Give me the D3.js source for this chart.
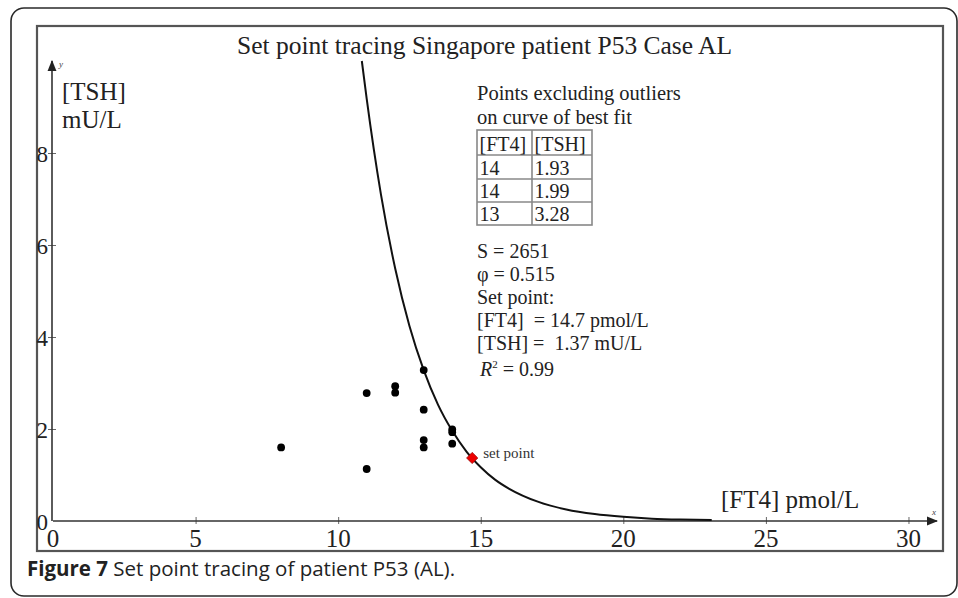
<!DOCTYPE html>
<html>
<head>
<meta charset="utf-8">
<script src="https://cdn.jsdelivr.net/npm/d3@7"></script>
<style>
  html, body { margin: 0; padding: 0; background: #fff; }
  svg { display: block; }
  text { white-space: pre; }
</style>
</head>
<body>
<svg id="chart" width="958" height="598"></svg>
<script>
// ---- data ----
const pointFT4 = [8, 11, 11, 12, 12, 13, 13, 13, 13, 14, 14, 14];
const pointTSH = [1.6, 2.78, 1.13, 2.93, 2.79, 3.28, 2.42, 1.76, 1.6, 1.99, 1.93, 1.68];
const setPointFT4 = 14.7;
const setPointTSH = 1.37;
const curveFT4 = [10.83, 11, 11.5, 12, 12.5, 13, 13.5, 14, 14.5, 15, 15.5, 16, 17, 18, 19, 20, 21, 22, 23.1];
const curveTSH = [10.0, 9.18, 7.10, 5.49, 4.24, 3.28, 2.53, 1.96, 1.51, 1.17, 0.90, 0.70, 0.42, 0.25, 0.15, 0.09, 0.05, 0.03, 0.02];
const xTicks = [0, 5, 10, 15, 20, 25, 30];
const yTicks = [0, 2, 4, 6, 8];
const tableHeader = ["[FT4]", "[TSH]"];
const tableFT4 = ["14", "14", "13"];
const tableTSH = ["1.93", "1.99", "3.28"];
const paramLines = ["S = 2651", "\u03c6 = 0.515", "Set point:", "[FT4]  = 14.7 pmol/L", "[TSH] =  1.37 mU/L"];
const noteLines = ["Points excluding outliers", "on curve of best fit"];
const titleText = "Set point tracing Singapore patient P53 Case AL";

const svg = d3.select("#chart");
const serif = "'Liberation Serif', 'Times New Roman', serif";

// outer rounded figure box
svg.append("rect").attr("x", 11).attr("y", 8).attr("width", 946).attr("height", 588)
  .attr("rx", 13).attr("fill", "none").attr("stroke", "#2a2a2a").attr("stroke-width", 1.6);

// inner frame
svg.append("rect").attr("x", 37).attr("y", 26).attr("width", 906).attr("height", 525)
  .attr("fill", "none").attr("stroke", "#555").attr("stroke-width", 2.2);

// scales
const x = d3.scaleLinear().domain([0, 31]).range([53, 937]);
const y = d3.scaleLinear().domain([0, 10]).range([521, 61]);

// marker
const defs = svg.append("defs");
defs.append("marker").attr("id", "arr").attr("viewBox", "0 0 10 10").attr("refX", 9).attr("refY", 5)
  .attr("markerWidth", 7).attr("markerHeight", 7).attr("orient", "auto-start-reverse")
  .append("path").attr("d", "M0,1 L10,5 L0,9 Z").attr("fill", "#222");

// x axis
const xAxis = d3.axisBottom(x).tickValues(xTicks.filter(d => d > 0)).tickSizeInner(-4).tickSizeOuter(0).tickFormat("");
const gx = svg.append("g").attr("transform", `translate(0,${y(0)})`).call(xAxis);
gx.select(".domain").remove();
gx.selectAll(".tick line").attr("stroke", "#666").attr("y2", -4).attr("y1", 3);
svg.append("line").attr("x1", x(0)).attr("x2", x(31)).attr("y1", y(0)).attr("y2", y(0))
  .attr("stroke", "#333").attr("stroke-width", 1.6).attr("marker-end", "url(#arr)");
svg.selectAll(".xlab").data(xTicks).join("text")
  .attr("x", d => x(d)).attr("y", 547).attr("text-anchor", "middle")
  .attr("font-family", serif).attr("font-size", 25).attr("fill", "#222").text(d => d);

// y axis
const yAxis = d3.axisLeft(y).tickValues(yTicks.filter(d => d > 0)).tickSizeInner(4).tickSizeOuter(0).tickFormat("");
const gy = svg.append("g").attr("transform", `translate(${x(0) - 1},0)`).call(yAxis);
gy.select(".domain").remove();
gy.selectAll(".tick line").attr("stroke", "#666").attr("x1", 4);
svg.append("line").attr("x1", x(0) - 1).attr("x2", x(0) - 1).attr("y1", y(0)).attr("y2", y(10))
  .attr("stroke", "#333").attr("stroke-width", 1.6).attr("marker-end", "url(#arr)");
svg.selectAll(".ylab").data(yTicks).join("text")
  .attr("x", 48).attr("y", d => y(d) + 9).attr("text-anchor", "end")
  .attr("font-family", serif).attr("font-size", 23).attr("fill", "#222").text(d => d);

// tiny axis letters
svg.append("text").attr("x", 59).attr("y", 67).attr("font-family", serif).attr("font-style", "italic")
  .attr("font-size", 9).attr("fill", "#444").text("y");
svg.append("text").attr("x", 932).attr("y", 515).attr("font-family", serif).attr("font-style", "italic")
  .attr("font-size", 9).attr("fill", "#444").text("x");

// axis titles
svg.append("text").attr("x", 62).attr("y", 100).attr("font-family", serif).attr("font-size", 25).attr("fill", "#222").text("[TSH]");
svg.append("text").attr("x", 62).attr("y", 128).attr("font-family", serif).attr("font-size", 25).attr("fill", "#222").text("mU/L");
svg.append("text").attr("x", 721).attr("y", 508).attr("font-family", serif).attr("font-size", 25).attr("fill", "#222").text("[FT4] pmol/L");

// title
svg.append("text").attr("x", 237).attr("y", 54).attr("font-family", serif).attr("font-size", 25.5).attr("fill", "#222").text(titleText);

// curve
const curveData = curveFT4.map((d, i) => [d, curveTSH[i]]);
svg.append("path").datum(curveData)
  .attr("d", d3.line().x(d => x(d[0])).y(d => y(d[1])).curve(d3.curveMonotoneX))
  .attr("fill", "none").attr("stroke", "#111").attr("stroke-width", 2);

// points
const pts = pointFT4.map((d, i) => [d, pointTSH[i]]);
svg.selectAll(".pt").data(pts).join("circle")
  .attr("cx", d => x(d[0])).attr("cy", d => y(d[1])).attr("r", 3.9).attr("fill", "#000");

// set point
svg.append("path").attr("d", d3.symbol().type(d3.symbolDiamond2).size(80)())
  .attr("transform", `translate(${x(setPointFT4)},${y(setPointTSH)})`)
  .attr("fill", "#ee0000").attr("stroke", "#990000").attr("stroke-width", 0.8);
svg.append("text").attr("x", x(setPointFT4) + 11).attr("y", y(setPointTSH) + 0)
  .attr("font-family", serif).attr("font-size", 15).attr("fill", "#333").text("set point");

// notes
svg.selectAll(".note").data(noteLines).join("text")
  .attr("x", 477).attr("y", (d, i) => 100 + i * 24)
  .attr("font-family", serif).attr("font-size", 20.5).attr("fill", "#222").text(d => d);

// table
const rowY = [130, 155, 179, 202, 225];
const colX = [477, 532, 592];
const tbl = svg.append("g");
tbl.append("rect").attr("x", colX[0]).attr("y", rowY[0]).attr("width", colX[2] - colX[0]).attr("height", rowY[4] - rowY[0])
  .attr("fill", "none").attr("stroke", "#888").attr("stroke-width", 1.6);
rowY.slice(1, 4).forEach(r => tbl.append("line").attr("x1", colX[0]).attr("x2", colX[2]).attr("y1", r).attr("y2", r)
  .attr("stroke", "#888").attr("stroke-width", 1.6));
tbl.append("line").attr("x1", colX[1]).attr("x2", colX[1]).attr("y1", rowY[0]).attr("y2", rowY[4])
  .attr("stroke", "#888").attr("stroke-width", 1.6);
const rows = [tableHeader].concat(tableFT4.map((d, i) => [d, tableTSH[i]]));
rows.forEach((r, i) => {
  r.forEach((c, j) => {
    tbl.append("text").attr("x", colX[j] + 2.5).attr("y", rowY[i + 1] - 4)
      .attr("font-family", serif).attr("font-size", 20).attr("fill", "#222").text(c);
  });
});

// parameter lines
const paramY = [258, 281, 304, 327, 350];
svg.selectAll(".param").data(paramLines).join("text")
  .attr("x", 477).attr("y", (d, i) => paramY[i])
  .attr("font-family", serif).attr("font-size", 20).attr("fill", "#222").text(d => d);
const r2 = svg.append("text").attr("x", 480).attr("y", 376).attr("font-family", serif).attr("font-size", 20).attr("fill", "#222");
r2.append("tspan").attr("font-style", "italic").text("R");
r2.append("tspan").attr("font-size", 11).attr("dy", -8).text("2");
r2.append("tspan").attr("dy", 8).text(" = 0.99");

// caption
const cap = svg.append("text").attr("x", 27).attr("y", 576).attr("font-family", "'Open Sans', sans-serif")
  .attr("font-size", 20.5).attr("fill", "#222");
cap.append("tspan").attr("font-weight", "bold").text("Figure 7");
cap.append("tspan").text(" Set point tracing of patient P53 (AL).");
</script>
</body>
</html>
